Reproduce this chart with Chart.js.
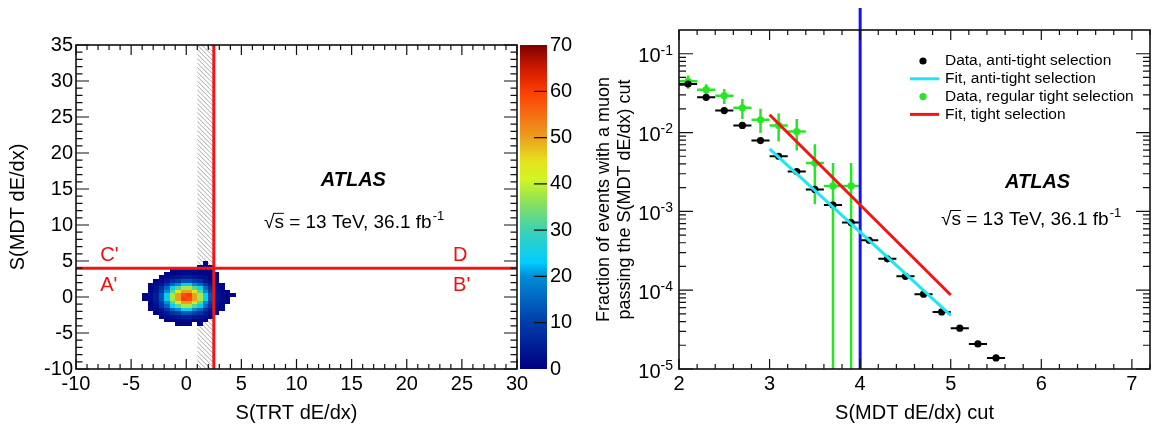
<!DOCTYPE html>
<html>
<head>
<meta charset="utf-8">
<script src="https://cdn.jsdelivr.net/npm/chart.js@4.4.0/dist/chart.umd.min.js"></script>
<style>
  html, body { margin: 0; padding: 0; background: #fff; }
  .pane { position: absolute; top: 0; }
</style>
</head>
<body>
<div class="pane" style="left:0"><canvas id="Chart1" width="580" height="429"></canvas></div>
<div class="pane" style="left:580px"><canvas id="Chart2" width="574" height="429"></canvas></div>
<script>
var FONT = "'Liberation Sans', Arial, Helvetica, sans-serif";

// ---- left: S(MDT) vs S(TRT), 0.5 x 0.5 bins (bin centres) ----
var binX = [-3.75, -3.25, -2.75, -2.25, -1.75, -1.25, -0.75, -0.25, 0.25, 0.75, 1.25, 1.75, 2.25, 2.75, 3.25, 3.75, 4.25];
var binY = [4.75, 4.25, 3.75, 3.25, 2.75, 2.25, 1.75, 1.25, 0.75, 0.25, -0.25, -0.75, -1.25, -1.75, -2.25, -2.75, -3.25, -3.75];
var binSize = 0.5;
var counts = [
  [0,0,0,0,0,0,0,0,0,0,0,1,0,0,0,0,0],
  [0,0,0,0,0,0,0,0,0,0,1,1,1,0,0,0,0],
  [0,0,0,0,0,1,1,1,1,1,1,1,1,0,0,0,0],
  [0,0,0,0,1,1,1,2,2,1,1,1,1,1,0,0,0],
  [0,0,0,1,2,3,4,5,5,4,3,2,1,1,0,0,0],
  [0,0,1,2,4,8,10,13,13,10,8,4,2,1,0,0,0],
  [0,1,2,4,9,15,20,24,24,20,15,9,4,1,1,0,0],
  [0,1,3,8,15,24,32,38,38,32,24,15,8,2,1,0,0],
  [0,1,4,10,20,32,44,50,50,44,32,20,10,3,1,1,0],
  [1,2,5,13,24,38,50,58,60,50,38,24,13,4,2,1,1],
  [1,2,5,13,24,38,50,60,58,50,38,24,13,4,2,1,0],
  [0,1,4,10,20,32,44,50,50,44,32,20,10,3,1,1,0],
  [0,1,3,8,15,24,32,38,38,32,24,15,8,2,1,0,0],
  [0,1,2,4,9,15,20,24,24,20,15,9,4,1,1,0,0],
  [0,0,1,2,4,8,10,13,13,10,8,4,2,1,0,0,0],
  [0,0,0,1,2,3,4,5,5,4,3,2,1,0,0,0,0],
  [0,0,0,0,1,1,1,2,2,1,1,1,0,0,0,0,0],
  [0,0,0,0,0,0,1,1,1,0,1,0,0,0,0,0,0]
];
var cutTRT = 2.5;
var cutMDT = 4;
var hatchFrom = 1.0;

// colour palette (z value -> rgb)
var paletteAt  = [0, 10, 20, 23, 30, 36, 41, 45, 50, 55, 60, 65, 70];
var paletteRGB = [[0,0,130],[0,60,170],[0,140,215],[0,205,255],[60,210,180],[140,225,90],
                  [210,245,35],[230,225,30],[235,160,30],[245,110,20],[255,60,0],[205,25,0],[128,0,0]];

// ---- right: fraction passing the S(MDT) cut ----
var cutPoints = [2.1, 2.3, 2.5, 2.7, 2.9, 3.1, 3.3, 3.5, 3.7, 3.9, 4.1, 4.3, 4.5, 4.7, 4.9, 5.1, 5.3, 5.5];
var antiTight = [0.0413, 0.028, 0.019, 0.0123, 0.0079, 0.005, 0.0032, 0.0019, 0.0012, 0.00072,
                 0.00043, 0.00025, 0.00015, 0.000089, 0.000053, 0.000033, 0.0000208, 0.0000138];
var tightPoints = [2.1, 2.3, 2.5, 2.7, 2.9, 3.1, 3.3, 3.5, 3.7, 3.9];
var tight   = [0.0446, 0.035, 0.0294, 0.0206, 0.0145, 0.0123, 0.0103, 0.0041, 0.0021, 0.0021];
var tightHi = [0.053, 0.041, 0.0357, 0.0267, 0.020, 0.0174, 0.0149, 0.0071, 0.0041, 0.0041];
var tightLo = [0.036, 0.0295, 0.0231, 0.0149, 0.0099, 0.0077, 0.0059, 0.00123, 0, 0];
var fitRange = [3, 5];
var antiFit  = [0.0062, 0.000048];
var tightFit = [0.0168, 0.000087];
var mdtCut = 4;
var decades = [-5, -4, -3, -2, -1];

function colorFor(v) {
  for (var i = 1; i < paletteAt.length; i++) {
    if (v <= paletteAt[i]) {
      var t = (v - paletteAt[i - 1]) / (paletteAt[i] - paletteAt[i - 1]);
      var a = paletteRGB[i - 1], b = paletteRGB[i];
      return 'rgb(' + Math.round(a[0] + (b[0] - a[0]) * t) + ',' + Math.round(a[1] + (b[1] - a[1]) * t) + ',' + Math.round(a[2] + (b[2] - a[2]) * t) + ')';
    }
  }
  return 'rgb(128,0,0)';
}

// ROOT style ticks on all four sides, pointing inwards
function rootTicks(chart, xs, ys, xMaj, yMaj, xl, yl) {
  var ctx = chart.ctx, a = chart.chartArea, sx = chart.scales.x, sy = chart.scales.y;
  ctx.save();
  ctx.strokeStyle = '#111';
  ctx.lineWidth = 1.2;
  ctx.beginPath();
  xs.forEach(function (v) {
    var p = sx.getPixelForValue(v), len = xMaj.indexOf(v) >= 0 ? xl : xl / 2;
    ctx.moveTo(p, a.bottom); ctx.lineTo(p, a.bottom - len);
    ctx.moveTo(p, a.top); ctx.lineTo(p, a.top + len);
  });
  ys.forEach(function (v) {
    var p = sy.getPixelForValue(v), len = yMaj.indexOf(v) >= 0 ? yl : yl / 2;
    ctx.moveTo(a.left, p); ctx.lineTo(a.left + len, p);
    ctx.moveTo(a.right, p); ctx.lineTo(a.right - len, p);
  });
  ctx.stroke();
  ctx.lineWidth = 1.6;
  ctx.strokeRect(a.left, a.top, a.right - a.left, a.bottom - a.top);
  ctx.restore();
}

function drawEnergy(ctx, x, y, size) {
  ctx.save();
  ctx.fillStyle = '#000';
  ctx.strokeStyle = '#000';
  ctx.textBaseline = 'middle';
  ctx.textAlign = 'left';
  ctx.font = size + 'px ' + FONT;
  var txt = '\u221As = 13 TeV, 36.1 fb';
  ctx.fillText(txt, x, y);
  var wr = ctx.measureText('\u221A').width, ws = ctx.measureText('s').width, w = ctx.measureText(txt).width;
  ctx.lineWidth = 1;
  ctx.beginPath();
  ctx.moveTo(x + wr - 1, y - size * 0.5);
  ctx.lineTo(x + wr + ws, y - size * 0.5);
  ctx.stroke();
  ctx.font = Math.round(size * 0.68) + 'px ' + FONT;
  ctx.fillText('-1', x + w + 1, y - size * 0.36);
  ctx.restore();
}

function drawAtlas(ctx, x, y) {
  ctx.save();
  ctx.fillStyle = '#000';
  ctx.textBaseline = 'middle';
  ctx.font = 'italic bold 20px ' + FONT;
  ctx.fillText('ATLAS', x, y);
  ctx.restore();
}

// ---------------- left chart ----------------
var leftPanel = {
  id: 'leftPanel',
  beforeDatasetsDraw: function (chart) {
    var ctx = chart.ctx, a = chart.chartArea, sx = chart.scales.x, sy = chart.scales.y;
    // hatched band
    var h0 = sx.getPixelForValue(hatchFrom), h1 = sx.getPixelForValue(cutTRT), H = a.bottom - a.top;
    ctx.save();
    ctx.beginPath();
    ctx.rect(h0, a.top, h1 - h0, H);
    ctx.clip();
    ctx.strokeStyle = '#a8a8a8';
    ctx.lineWidth = 1;
    ctx.beginPath();
    for (var k = -H; k < h1 - h0; k += 4.5) {
      ctx.moveTo(h0 + k, a.top);
      ctx.lineTo(h0 + k + H, a.bottom);
    }
    ctx.stroke();
    ctx.restore();
    // 2D histogram
    for (var r = 0; r < binY.length; r++) {
      for (var c = 0; c < binX.length; c++) {
        var v = counts[r][c];
        if (!v) continue;
        var x0 = Math.round(sx.getPixelForValue(binX[c] - binSize / 2));
        var x1 = Math.round(sx.getPixelForValue(binX[c] + binSize / 2));
        var y0 = Math.round(sy.getPixelForValue(binY[r] + binSize / 2));
        var y1 = Math.round(sy.getPixelForValue(binY[r] - binSize / 2));
        ctx.fillStyle = colorFor(v);
        ctx.fillRect(x0, y0, x1 - x0, y1 - y0);
      }
    }
  },
  afterDraw: function (chart) {
    var ctx = chart.ctx, sx = chart.scales.x, sy = chart.scales.y, sz = chart.scales.z;
    var xt = [], yt = [], i;
    for (i = -10; i <= 30; i++) xt.push(i);
    for (i = -10; i <= 35; i++) yt.push(i);
    rootTicks(chart, xt, yt, xt.filter(function (v) { return v % 5 === 0; }),
              yt.filter(function (v) { return v % 5 === 0; }), 10, 13);

    // colour bar
    var cx0 = sz.left + 3, cx1 = sz.left + 30, ct = sz.getPixelForValue(70), cb = sz.getPixelForValue(0);
    var g = ctx.createLinearGradient(0, cb, 0, ct);
    paletteAt.forEach(function (v, j) {
      var p = paletteRGB[j];
      g.addColorStop(v / 70, 'rgb(' + p[0] + ',' + p[1] + ',' + p[2] + ')');
    });
    ctx.save();
    ctx.fillStyle = g;
    ctx.fillRect(cx0, ct, cx1 - cx0, cb - ct);
    ctx.strokeStyle = '#111';
    ctx.lineWidth = 1.2;
    ctx.beginPath();
    for (i = 10; i < 70; i += 10) {
      var py = sz.getPixelForValue(i);
      ctx.moveTo(cx1, py); ctx.lineTo(cx1 - 13, py);
    }
    ctx.stroke();
    ctx.restore();

    drawAtlas(ctx, sx.getPixelForValue(12.2), sy.getPixelForValue(16.2));
    drawEnergy(ctx, sx.getPixelForValue(7.05), sy.getPixelForValue(10.3), 19);

    ctx.save();
    ctx.fillStyle = '#f01010';
    ctx.font = '20px ' + FONT;
    ctx.textBaseline = 'middle';
    ctx.fillText("C'", sx.getPixelForValue(-7.8), sy.getPixelForValue(5.75));
    ctx.fillText("A'", sx.getPixelForValue(-7.8), sy.getPixelForValue(1.6));
    ctx.fillText('D', sx.getPixelForValue(24.2), sy.getPixelForValue(5.75));
    ctx.fillText("B'", sx.getPixelForValue(24.2), sy.getPixelForValue(1.6));
    ctx.restore();
  }
};

var tickFont = { family: FONT, size: 20 };

var chart1 = new Chart(document.getElementById('Chart1').getContext('2d'), {
  type: 'scatter',
  data: {
    datasets: [
      { data: [{ x: cutTRT, y: -10 }, { x: cutTRT, y: 35 }], showLine: true, borderColor: '#f51414', borderWidth: 3, pointRadius: 0 },
      { data: [{ x: -10, y: cutMDT }, { x: 30, y: cutMDT }], showLine: true, borderColor: '#f51414', borderWidth: 3, pointRadius: 0 }
    ]
  },
  options: {
    responsive: false,
    animation: false,
    events: [],
    layout: { padding: { top: 32, left: 0, right: 0, bottom: 0 } },
    plugins: { legend: { display: false }, tooltip: { enabled: false } },
    scales: {
      x: {
        type: 'linear', min: -10, max: 30,
        grid: { display: false, drawTicks: false }, border: { display: false },
        ticks: { stepSize: 5, font: tickFont, color: '#000', padding: 3, maxRotation: 0, autoSkip: false },
        title: { display: true, text: 'S(TRT dE/dx)', font: tickFont, color: '#000', padding: { top: 0, bottom: 4 } },
        afterFit: function (s) { s.height = 60; }
      },
      y: {
        type: 'linear', min: -10, max: 35,
        grid: { display: false, drawTicks: false }, border: { display: false },
        ticks: { stepSize: 5, font: tickFont, color: '#000', padding: 3, autoSkip: false },
        title: { display: true, text: 'S(MDT dE/dx)', font: tickFont, color: '#000', padding: { top: 6, bottom: 0 } },
        afterFit: function (s) { s.width = 76; }
      },
      z: {
        type: 'linear', axis: 'y', position: 'right', min: 0, max: 70,
        grid: { display: false, drawTicks: false }, border: { display: false },
        ticks: { stepSize: 10, font: tickFont, color: '#000', padding: 33, autoSkip: false },
        afterFit: function (s) { s.width = 63; }
      }
    }
  },
  plugins: [leftPanel]
});

// ---------------- right chart ----------------
var rightPanel = {
  id: 'rightPanel',
  beforeDatasetsDraw: function (chart) {
    var ctx = chart.ctx, a = chart.chartArea, sx = chart.scales.x, sy = chart.scales.y;
    ctx.save();
    ctx.beginPath();
    ctx.rect(a.left, a.top, a.right - a.left, a.bottom - a.top);
    ctx.clip();
    // anti-tight: bin width only
    ctx.strokeStyle = '#000';
    ctx.lineWidth = 2;
    ctx.beginPath();
    cutPoints.forEach(function (x, i) {
      var py = sy.getPixelForValue(antiTight[i]);
      ctx.moveTo(sx.getPixelForValue(x - 0.1), py);
      ctx.lineTo(sx.getPixelForValue(x + 0.1), py);
    });
    ctx.stroke();
    // tight: bin width and statistical errors
    ctx.strokeStyle = '#26e626';
    ctx.lineWidth = 2.5;
    ctx.beginPath();
    tightPoints.forEach(function (x, i) {
      var py = sy.getPixelForValue(tight[i]), px = sx.getPixelForValue(x);
      ctx.moveTo(sx.getPixelForValue(x - 0.1), py);
      ctx.lineTo(sx.getPixelForValue(x + 0.1), py);
      ctx.moveTo(px, sy.getPixelForValue(tightHi[i]));
      ctx.lineTo(px, tightLo[i] > 0 ? sy.getPixelForValue(tightLo[i]) : a.bottom);
    });
    ctx.stroke();
    ctx.restore();
  },
  afterDraw: function (chart) {
    var ctx = chart.ctx, a = chart.chartArea, sy = chart.scales.y;
    var xt = [], yt = [], i, k;
    for (i = 0; i <= 26; i++) xt.push(Math.round((2 + i * 0.2) * 10) / 10);
    for (i = -5; i <= -1; i++) {
      for (k = 1; k <= 9; k++) {
        var v = Number((k * Math.pow(10, i)).toPrecision(3));
        if (v < 0.2) yt.push(v);
      }
    }
    var yMaj = decades.map(function (d) { return Number(Math.pow(10, d).toPrecision(3)); });
    rootTicks(chart, xt, yt, [2, 3, 4, 5, 6, 7], yMaj, 10, 14);

    // 10^n labels
    ctx.save();
    ctx.fillStyle = '#000';
    ctx.textBaseline = 'middle';
    decades.forEach(function (d) {
      var py = sy.getPixelForValue(Math.pow(10, d));
      var sup = String(d);
      ctx.font = '14px ' + FONT;
      var ws = ctx.measureText(sup).width;
      ctx.textAlign = 'left';
      ctx.fillText(sup, a.left - 6 - ws, py - 3);
      ctx.font = '20px ' + FONT;
      ctx.textAlign = 'right';
      ctx.fillText('10', a.left - 6 - ws, py + 3);
    });
    ctx.restore();

    // legend
    var rows = [
      { t: 'Data, anti-tight selection', c: '#000', m: 'dot' },
      { t: 'Fit, anti-tight selection', c: '#1ee6f5', m: 'line' },
      { t: 'Data, regular tight selection', c: '#26e626', m: 'dot' },
      { t: 'Fit, tight selection', c: '#f51414', m: 'line' }
    ];
    ctx.save();
    ctx.font = '15.5px ' + FONT;
    ctx.textBaseline = 'middle';
    ctx.textAlign = 'left';
    rows.forEach(function (r, j) {
      var y = 61 + j * 17.8;
      if (r.m === 'dot') {
        ctx.fillStyle = r.c;
        ctx.beginPath();
        ctx.arc(343, y, 3.6, 0, Math.PI * 2);
        ctx.fill();
      } else {
        ctx.strokeStyle = r.c;
        ctx.lineWidth = 3;
        ctx.beginPath();
        ctx.moveTo(330, y); ctx.lineTo(359, y);
        ctx.stroke();
      }
      ctx.fillStyle = '#000';
      ctx.fillText(r.t, 365, y);
    });
    ctx.restore();

    drawAtlas(ctx, 425, 182);
    drawEnergy(ctx, 361, 220, 19);
  }
};

function pts(xs, ys) {
  return xs.map(function (x, i) { return { x: x, y: ys[i] }; });
}

var chart2 = new Chart(document.getElementById('Chart2').getContext('2d'), {
  type: 'scatter',
  data: {
    datasets: [
      { label: 'Fit, anti-tight selection', data: pts(fitRange, antiFit), showLine: true, borderColor: '#1ee6f5', borderWidth: 3, pointRadius: 0 },
      { label: 'Fit, tight selection', data: pts(fitRange, tightFit), showLine: true, borderColor: '#f51414', borderWidth: 3, pointRadius: 0 },
      { label: 'cut', data: [{ x: mdtCut, y: 0.00001 }, { x: mdtCut, y: 0.38 }], showLine: true, borderColor: '#1414f0', borderWidth: 3, pointRadius: 0, clip: false },
      { label: 'Data, anti-tight selection', data: pts(cutPoints, antiTight), backgroundColor: '#000', borderWidth: 0, pointRadius: 3.6 },
      { label: 'Data, regular tight selection', data: pts(tightPoints, tight), backgroundColor: '#26e626', borderWidth: 0, pointRadius: 3.6 }
    ]
  },
  options: {
    responsive: false,
    animation: false,
    events: [],
    layout: { padding: { top: 30, left: 0, right: 3, bottom: 0 } },
    plugins: { legend: { display: false }, tooltip: { enabled: false } },
    scales: {
      x: {
        type: 'linear', min: 2, max: 7.2,
        grid: { display: false, drawTicks: false }, border: { display: false },
        ticks: { stepSize: 1, includeBounds: false, font: tickFont, color: '#000', padding: 3, maxRotation: 0, autoSkip: false },
        title: { display: true, text: 'S(MDT dE/dx) cut', font: tickFont, color: '#000', padding: { top: 0, bottom: 4 } },
        afterFit: function (s) { s.height = 60; }
      },
      y: {
        type: 'logarithmic', min: 0.00001, max: 0.2,
        grid: { display: false, drawTicks: false }, border: { display: false },
        ticks: { display: false },
        title: {
          display: true,
          text: ['Fraction of events with a muon', 'passing the S(MDT dE/dx) cut'],
          font: { family: FONT, size: 18, lineHeight: 1.2 }, color: '#000', padding: { top: 13, bottom: 0 }
        },
        afterFit: function (s) { s.width = 99; }
      }
    }
  },
  plugins: [rightPanel]
});
</script>
</body>
</html>
